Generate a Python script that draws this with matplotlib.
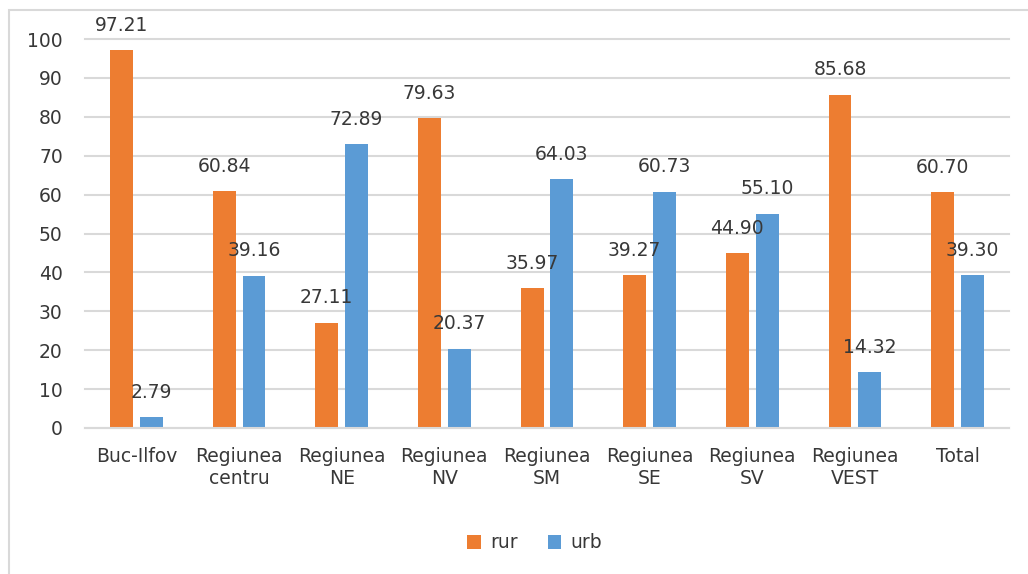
import numpy as np
import matplotlib
matplotlib.use('Agg')
import matplotlib.pyplot as plt
import matplotlib.patches as patches

categories = ['Buc-Ilfov', 'Regiunea\ncentru', 'Regiunea\nNE', 'Regiunea\nNV', 'Regiunea\nSM',
              'Regiunea\nSE', 'Regiunea\nSV', 'Regiunea\nVEST', 'Total']
rur = [97.21, 60.84, 27.11, 79.63, 35.97, 39.27, 44.90, 85.68, 60.70]
urb = [2.79, 39.16, 72.89, 20.37, 64.03, 60.73, 55.10, 14.32, 39.30]
y_ticks = [0, 10, 20, 30, 40, 50, 60, 70, 80, 90, 100]

plt.rcParams['font.family'] = ['DejaVu Sans']
txt_color = '#383838'
fs = 13.5

fig = plt.figure(figsize=(10.28, 5.74), dpi=100)
ax = fig.add_axes([0.0827, 0.2544, 0.8988, 0.6776])

# chart border (left and top visible)
fig.patches.append(patches.Rectangle((9 / 1028, -0.05), 1.2, 1 - 10 / 574 + 0.05,
                                     transform=fig.transFigure, fill=False,
                                     edgecolor='#d9d9d9', linewidth=1.5))

x = np.arange(len(categories))
w = 0.224
off = 0.146
b1 = ax.bar(x - off, rur, w, color='#ED7D31', label='rur', zorder=2)
b2 = ax.bar(x + off, urb, w, color='#5B9BD5', label='urb', zorder=2)

for bars, vals in ((b1, rur), (b2, urb)):
    for rect, v in zip(bars, vals):
        ax.annotate(f'{v:.2f}', (rect.get_x() + rect.get_width() / 2, v),
                    xytext=(0, 11), textcoords='offset points',
                    ha='center', va='bottom', fontsize=fs, color=txt_color, zorder=3)

ax.set_xlim(-0.5, len(categories) - 0.5)
ax.set_ylim(0, 100)
ax.set_yticks(y_ticks)
ax.set_xticks(x)
ax.set_xticklabels(categories)
ax.tick_params(axis='both', length=0, labelsize=fs, labelcolor=txt_color)
ax.tick_params(axis='y', pad=16)
ax.tick_params(axis='x', pad=14)
ax.yaxis.grid(True, color='#d9d9d9', linewidth=1.5, zorder=0)
for gl in ax.get_ygridlines():
    gl.set_clip_on(False)
ax.set_axisbelow(True)
for s in ('left', 'right', 'top'):
    ax.spines[s].set_visible(False)
ax.spines['bottom'].set_color('#d9d9d9')
ax.spines['bottom'].set_linewidth(1.5)

fig.legend(handles=[b1, b2], labels=['rur', 'urb'], loc='center',
           bbox_to_anchor=(0.52, 1 - 543 / 574), ncol=2, frameon=False,
           fontsize=fs, labelcolor=txt_color, handlelength=0.7, handleheight=0.7,
           handletextpad=0.5, columnspacing=1.6)

fig.savefig('out.png', dpi=100, facecolor='white')
